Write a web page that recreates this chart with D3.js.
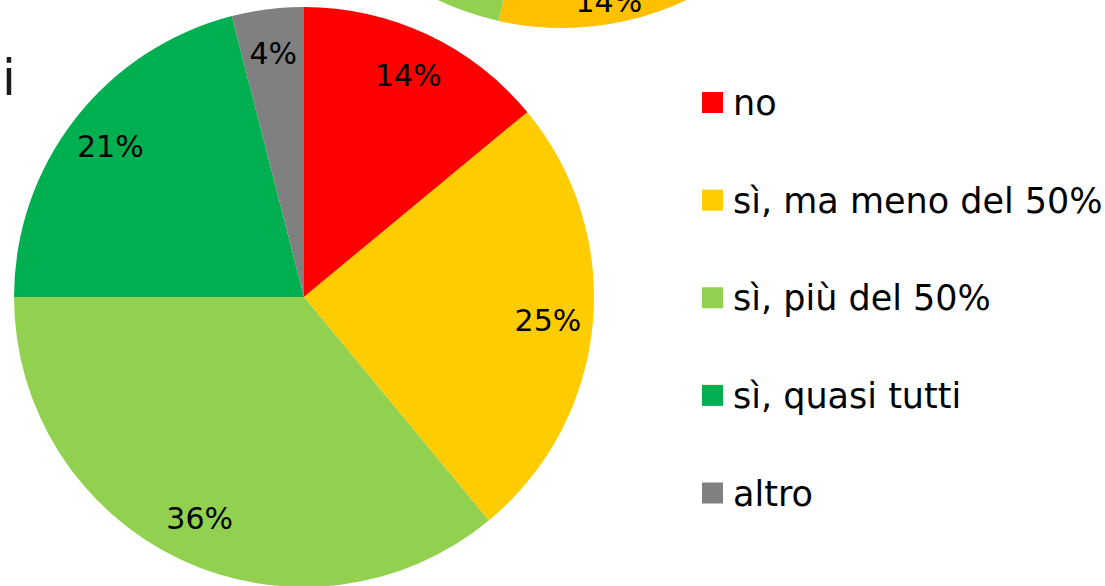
<!DOCTYPE html>
<html lang="it">
<head>
<meta charset="UTF-8">
<title></title>
<script src="https://cdn.jsdelivr.net/npm/d3@7"></script>
<style>
  html, body { margin: 0; padding: 0; background: #fff; }
  svg { display: block; font-family: "DejaVu Sans", sans-serif; }
</style>
</head>
<body>
<svg class="pie-svg"></svg>
<script>
  // categorie e valori (%) della torta principale
  const categories = ['no', 'sì, ma meno del 50%', 'sì, più del 50%', 'sì, quasi tutti', 'altro'];
  const values = [14, 25, 36, 21, 4];
  const colors = ['#ff0000', '#ffcc00', '#92d050', '#00b050', '#808080'];

  // torta tagliata in alto (solo una parte è visibile), valori stimati
  const topValues = [39.5, 14, 32, 10.5, 4];
  const topLabels = ['', '14%', '', '', ''];
  const topColors = ['#ff0000', '#ffc000', '#92d050', '#00b050', '#808080'];

  const width = 1105,
        height = 586,
        radius = 290;

  const svg = d3.select('.pie-svg')
      .attr('width', width)
      .attr('height', height);

  const pie = d3.pie().sort(null).value(d => d);

  // torta superiore, centro fuori dall'area visibile
  const gTop = svg.append('g')
      .attr('transform', `translate(562, ${28 - radius})`);
  const arcTop = d3.arc().innerRadius(0).outerRadius(radius);
  const labelArcTop = d3.arc().innerRadius(radius * 0.93).outerRadius(radius * 0.93);
  const topData = pie(topValues);
  gTop.selectAll('path').data(topData).enter().append('path')
      .attr('d', arcTop)
      .style('fill', (d, i) => topColors[i]);
  gTop.selectAll('text').data(topData).enter().append('text')
      .text((d, i) => topLabels[i])
      .attr('transform', d => `translate(${labelArcTop.centroid(d)})`)
      .attr('dx', -12)
      .attr('dy', '.35em')
      .style('text-anchor', 'middle')
      .style('font-size', '30px');

  // testo tagliato a sinistra
  svg.append('text')
      .attr('x', 16)
      .attr('y', 95)
      .style('text-anchor', 'end')
      .style('font-size', '50px')
      .style('fill', '#1a1a1a')
      .text('li');

  // torta principale
  const g = svg.append('g')
      .attr('transform', 'translate(304, 297)');
  const arc = d3.arc().innerRadius(0).outerRadius(radius);
  const labelArc = d3.arc().innerRadius(radius * 0.845).outerRadius(radius * 0.845);
  const pieData = pie(values);

  const groups = g.selectAll('g').data(pieData).enter().append('g');
  groups.append('path')
      .attr('d', arc)
      .style('fill', (d, i) => colors[i]);
  groups.append('text')
      .text(d => d.data + '%')
      .attr('transform', d => `translate(${labelArc.centroid(d)})`)
      .attr('dy', '.35em')
      .style('text-anchor', 'middle')
      .style('font-size', '30px')
      .style('fill', '#000');

  // legenda
  const legendY = d3.scalePoint()
      .domain(categories)
      .range([102.5, 493]);

  const legend = svg.append('g').selectAll('g')
      .data(categories).enter().append('g')
      .attr('transform', d => `translate(702, ${legendY(d)})`);
  legend.append('rect')
      .attr('x', 0).attr('y', -10.5)
      .attr('width', 21).attr('height', 21)
      .style('fill', (d, i) => colors[i]);
  legend.append('text')
      .attr('x', 31)
      .attr('y', 12.5)
      .style('font-size', '35px')
      .style('fill', '#000')
      .text(d => d);
</script>
</body>
</html>
